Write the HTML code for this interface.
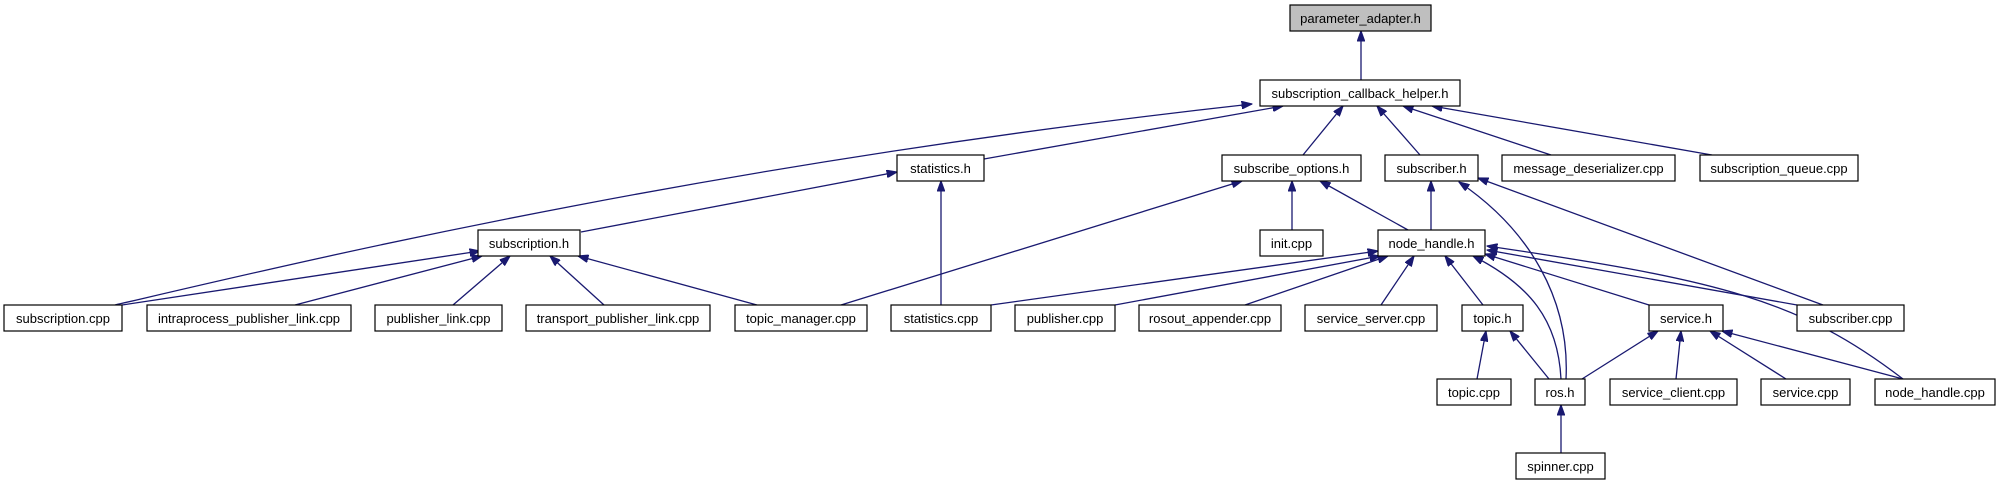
<!DOCTYPE html>
<html><head><meta charset="utf-8"><style>
html,body{margin:0;padding:0;background:#fff;}
svg{display:block;}
text{font-family:"Liberation Sans",Helvetica,sans-serif;font-size:13px;fill:#000;text-anchor:middle;}
</style></head><body>
<svg width="2001" height="485" viewBox="0 0 2001 485" xmlns="http://www.w3.org/2000/svg">
<defs>
<marker id="a" markerWidth="11" markerHeight="8" refX="10.5" refY="4" orient="auto" markerUnits="userSpaceOnUse">
<path d="M0,0 L11,4 L0,8 Z" fill="#191970" stroke="#191970" stroke-width="0.8"/>
</marker>
</defs>
<g fill="none" stroke="#191970" stroke-width="1.3" marker-end="url(#a)">
<path d="M1361,80 L1361,31"/>
<path d="M115,305 C300,262 700,165 1252,104"/>
<path d="M984,159 L1283,106"/>
<path d="M1303,155 L1343,106"/>
<path d="M1420,155 L1377,106"/>
<path d="M1551,155 L1403,106"/>
<path d="M1712,155 L1432,106"/>
<path d="M581,232 L897,172"/>
<path d="M941,305 L941,181"/>
<path d="M122,305 L480,251"/>
<path d="M295,305 L482,256"/>
<path d="M453,305 L510,256"/>
<path d="M604,305 L550,256"/>
<path d="M757,305 L578,256"/>
<path d="M841,305 L1242,181"/>
<path d="M1292,230 L1292,181"/>
<path d="M1408,230 L1320,181"/>
<path d="M1431,230 L1431,181"/>
<path d="M1566,379 C1570,300 1530,230 1459,182"/>
<path d="M1823,305 L1478,178"/>
<path d="M991,305 L1378,251"/>
<path d="M1115,305 L1380,256"/>
<path d="M1245,305 L1388,256"/>
<path d="M1381,305 L1414,256"/>
<path d="M1483,305 L1445,256"/>
<path d="M1561,379 C1558,320 1530,285 1473,256"/>
<path d="M1649,305 L1485,254"/>
<path d="M1797,305 L1487,250"/>
<path d="M1903,379 C1800,300 1720,280 1487,246"/>
<path d="M1477,379 L1486,331"/>
<path d="M1549,379 L1510,331"/>
<path d="M1582,379 L1658,331"/>
<path d="M1676,379 L1681,331"/>
<path d="M1786,379 L1710,331"/>
<path d="M1903,379 L1722,331"/>
<path d="M1561,453 L1561,405"/>
</g>
<g stroke="#000" stroke-width="1.2" fill="#fff">
<rect x="1290" y="5" width="141" height="26" fill="#bfbfbf"/>
<rect x="1260" y="80" width="200" height="26"/>
<rect x="897" y="155" width="87" height="26"/>
<rect x="1222" y="155" width="139" height="26"/>
<rect x="1385" y="155" width="93" height="26"/>
<rect x="1502" y="155" width="173" height="26"/>
<rect x="1700" y="155" width="158" height="26"/>
<rect x="478" y="230" width="102" height="26"/>
<rect x="1260" y="230" width="63" height="26"/>
<rect x="1378" y="230" width="107" height="26"/>
<rect x="4" y="305" width="118" height="26"/>
<rect x="147" y="305" width="204" height="26"/>
<rect x="375" y="305" width="127" height="26"/>
<rect x="526" y="305" width="184" height="26"/>
<rect x="735" y="305" width="132" height="26"/>
<rect x="891" y="305" width="100" height="26"/>
<rect x="1015" y="305" width="100" height="26"/>
<rect x="1139" y="305" width="142" height="26"/>
<rect x="1305" y="305" width="132" height="26"/>
<rect x="1462" y="305" width="61" height="26"/>
<rect x="1649" y="305" width="74" height="26"/>
<rect x="1797" y="305" width="107" height="26"/>
<rect x="1437" y="379" width="74" height="26"/>
<rect x="1535" y="379" width="50" height="26"/>
<rect x="1610" y="379" width="127" height="26"/>
<rect x="1761" y="379" width="89" height="26"/>
<rect x="1875" y="379" width="120" height="26"/>
<rect x="1516" y="453" width="89" height="26"/>
</g>
<g>
<text x="1360.5" y="23">parameter_adapter.h</text>
<text x="1360" y="98">subscription_callback_helper.h</text>
<text x="940.5" y="173">statistics.h</text>
<text x="1291.5" y="173">subscribe_options.h</text>
<text x="1431.5" y="173">subscriber.h</text>
<text x="1588.5" y="173">message_deserializer.cpp</text>
<text x="1779" y="173">subscription_queue.cpp</text>
<text x="529" y="248">subscription.h</text>
<text x="1291.5" y="248">init.cpp</text>
<text x="1431.5" y="248">node_handle.h</text>
<text x="63" y="323">subscription.cpp</text>
<text x="249" y="323">intraprocess_publisher_link.cpp</text>
<text x="438.5" y="323">publisher_link.cpp</text>
<text x="618" y="323">transport_publisher_link.cpp</text>
<text x="801" y="323">topic_manager.cpp</text>
<text x="941" y="323">statistics.cpp</text>
<text x="1065" y="323">publisher.cpp</text>
<text x="1210" y="323">rosout_appender.cpp</text>
<text x="1371" y="323">service_server.cpp</text>
<text x="1492.5" y="323">topic.h</text>
<text x="1686" y="323">service.h</text>
<text x="1850.5" y="323">subscriber.cpp</text>
<text x="1474" y="397">topic.cpp</text>
<text x="1560" y="397">ros.h</text>
<text x="1673.5" y="397">service_client.cpp</text>
<text x="1805.5" y="397">service.cpp</text>
<text x="1935" y="397">node_handle.cpp</text>
<text x="1560.5" y="471">spinner.cpp</text>
</g>
</svg>
</body></html>
